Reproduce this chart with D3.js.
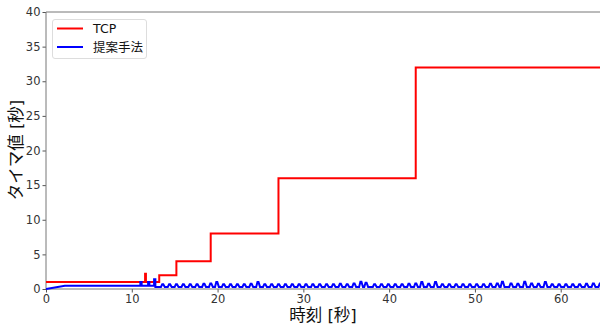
<!DOCTYPE html>
<html><head><meta charset="utf-8">
<script src="https://cdn.jsdelivr.net/npm/d3@7"></script>
<style>body{margin:0;background:#fff}svg{display:block}</style>
</head><body><svg id="c" width="600" height="325"></svg>
<script>
// TCP timer steps: [time, value]
const tcpT = [0, 11.55, 11.65, 13.2, 15.2, 19.2, 27.1, 43.1, 65];
const tcpV = [1, 2.2, 1, 2, 4, 8, 16, 32, 32];
// Proposed method: early segment points
const propEarlyT = [0, 2.2, 11.0, 11.0, 11.15, 11.15, 11.9, 11.9, 12.05, 12.05, 12.6, 12.6, 12.75, 12.75];
const propEarlyV = [0, 0.48, 0.48, 1.0, 1.0, 0.48, 0.48, 1.0, 1.0, 0.48, 0.48, 1.4, 1.4, 0.3];
// Proposed method: later small bumps (start time and peak value), base value
const propBase = 0.3;
const bumpT = [13.4,14.2,15.0,15.8,16.6,17.4,18.2,19.0,19.7,20.5,21.3,22.1,22.9,23.7,24.5,25.3,26.1,26.9,27.7,28.5,29.3,30.1,30.9,31.7,32.5,33.3,34.1,34.9,35.7,36.5,37.1,38.1,38.9,39.7,40.5,41.3,42.1,42.9,43.6,44.4,45.2,46.0,46.8,47.6,48.4,49.2,50.0,50.8,51.6,52.4,53.0,54.0,54.8,55.6,56.4,57.2,58.0,58.8,59.6,60.4,61.2,62.0,62.8,63.6,64.4];
const bumpV = [0.7,0.7,0.7,0.7,0.7,0.7,0.75,0.8,1.0,0.7,0.7,0.7,0.7,0.75,1.0,0.7,0.7,0.7,0.7,0.7,0.7,0.7,0.7,0.7,0.7,0.7,0.75,0.7,0.8,1.05,0.9,0.7,0.7,0.7,0.7,0.7,0.75,0.8,1.0,0.75,1.0,0.7,0.7,0.7,0.7,0.7,0.7,0.7,0.75,0.8,1.05,0.8,0.75,1.05,0.8,0.75,1.0,0.7,0.7,0.7,0.7,0.7,0.75,0.8,0.8];
const xTicks = [0,10,20,30,40,50,60];
const yTicks = [0,5,10,15,20,25,30,35,40];

const svg = d3.select('#c');
const L = 46, T = 12, R = 603.6, B = 289;
const x = d3.scaleLinear().domain([0, 65]).range([L, R]);
const y = d3.scaleLinear().domain([0, 40]).range([B, T]);
const font = '"DejaVu Sans","Noto Sans CJK JP",sans-serif';

svg.append('clipPath').attr('id','clip').append('rect')
  .attr('x', L).attr('y', T - 2).attr('width', 600 - L).attr('height', B - T + 4);

// axes
const xAxis = svg.append('g').attr('transform', `translate(0,${B})`)
  .call(d3.axisBottom(x).tickValues(xTicks).tickSize(3.5).tickPadding(2));
const yAxis = svg.append('g').attr('transform', `translate(${L},0)`)
  .call(d3.axisLeft(y).tickValues(yTicks).tickSize(3.5).tickPadding(2));
[xAxis, yAxis].forEach(g => {
  g.select('.domain').remove();
  g.selectAll('line').attr('stroke', '#555');
  g.selectAll('text').attr('fill', '#333').style('font-family', font).style('font-size', '11.5px');
});
// spines
svg.append('line').attr('x1', L).attr('x2', 600).attr('y1', T).attr('y2', T).attr('stroke', '#777');
svg.append('line').attr('x1', L).attr('x2', 600).attr('y1', B).attr('y2', B).attr('stroke', '#777');
svg.append('line').attr('x1', L).attr('x2', L).attr('y1', T).attr('y2', B).attr('stroke', '#777');

// data
const tcp = tcpT.map((t, i) => [t, tcpV[i]]);
const prop = propEarlyT.map((t, i) => [t, propEarlyV[i]]);
bumpT.forEach((t, i) => {
  prop.push([t, propBase], [t + 0.15, bumpV[i]], [t + 0.27, bumpV[i]], [t + 0.45, propBase]);
});
prop.push([65, propBase]);

const plot = svg.append('g').attr('clip-path', 'url(#clip)');
plot.append('path').datum(tcp)
  .attr('d', d3.line().x(d => x(d[0])).y(d => y(d[1])).curve(d3.curveStepAfter))
  .attr('fill', 'none').attr('stroke', '#ff0000').attr('stroke-width', 2);
plot.append('path').datum(prop)
  .attr('d', d3.line().x(d => x(d[0])).y(d => y(d[1])))
  .attr('fill', 'none').attr('stroke', '#0000ff').attr('stroke-width', 2);

// labels
svg.append('text').attr('x', 323).attr('y', 321).attr('text-anchor', 'middle')
  .style('font-family', font).style('font-size', '16.5px').attr('fill', '#111').text('時刻 [秒]');
svg.append('text').attr('transform', 'translate(22,150) rotate(-90)').attr('text-anchor', 'middle')
  .style('font-family', font).style('font-size', '16.5px').attr('fill', '#111').text('タイマ値 [秒]');

// legend
const lg = svg.append('g');
lg.append('rect').attr('x', 52.5).attr('y', 19.5).attr('width', 94).attr('height', 39).attr('rx', 2.5)
  .attr('fill', 'rgba(255,255,255,0.8)').attr('stroke', '#ddd');
const items = [['TCP', '#ff0000'], ['提案手法', '#0000ff']];
items.forEach((it, i) => {
  const yy = 28.5 + i * 18.5;
  lg.append('line').attr('x1', 57).attr('x2', 83).attr('y1', yy).attr('y2', yy).attr('stroke', it[1]).attr('stroke-width', 2);
  lg.append('text').attr('x', 93).attr('y', yy + 4.5).style('font-family', font).style('font-size', '12.5px')
    .attr('fill', '#111').text(it[0]);
});
</script></body></html>
